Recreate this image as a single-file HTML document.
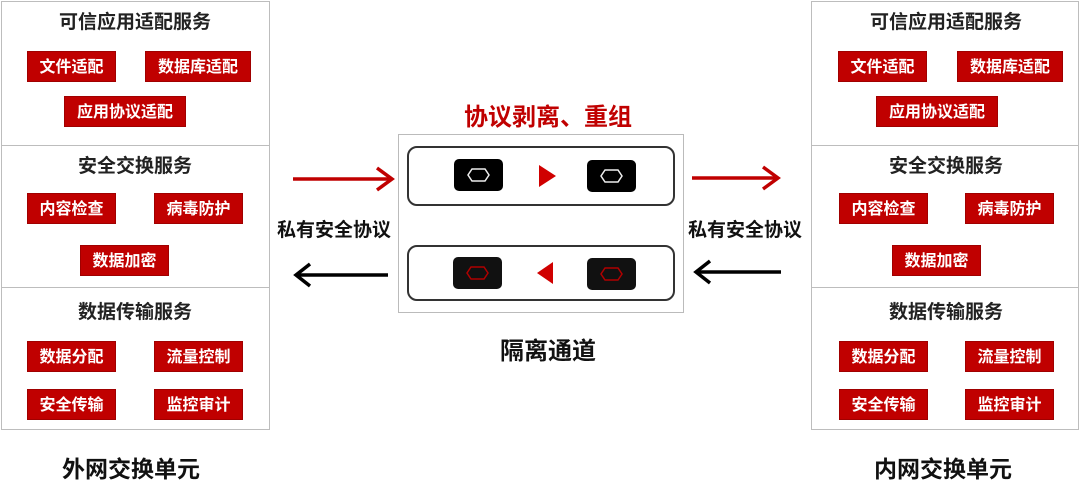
<!DOCTYPE html>
<html><head><meta charset="utf-8"><style>
body{margin:0;width:1080px;height:485px;background:#fff;position:relative;overflow:hidden;font-family:"Liberation Sans","Noto Sans CJK SC",sans-serif;font-weight:bold}
.a{position:absolute}
.sec{position:absolute;border:1.5px solid #bdbdbd;box-sizing:border-box;background:#fff}
.t{position:absolute;font-size:19px;color:#222;text-align:center;width:268px;left:0}
.b{position:absolute;background:#c00000;color:#fff;font-size:16px;text-align:center;height:31px;line-height:31px;border:1px solid #a00000;box-sizing:border-box;white-space:nowrap}
.lbl{position:absolute;font-size:23px;color:#111;text-align:center}
</style></head><body>

<!-- Left panel -->
<div class="sec" style="left:1px;top:1px;width:269px;height:145px"></div>
<div class="sec" style="left:1px;top:145px;width:269px;height:143px"></div>
<div class="sec" style="left:1px;top:287px;width:269px;height:143px"></div>
<div class="a" style="left:1px;top:0;width:269px;height:440px">
 <div class="t" style="top:7px">可信应用适配服务</div>
 <div class="b" style="left:26px;top:51px;width:89px">文件适配</div>
 <div class="b" style="left:144px;top:51px;width:106px">数据库适配</div>
 <div class="b" style="left:63px;top:96px;width:122px">应用协议适配</div>
 <div class="t" style="top:151px">安全交换服务</div>
 <div class="b" style="left:26px;top:193px;width:89px">内容检查</div>
 <div class="b" style="left:153px;top:193px;width:89px">病毒防护</div>
 <div class="b" style="left:79px;top:245px;width:89px">数据加密</div>
 <div class="t" style="top:297px">数据传输服务</div>
 <div class="b" style="left:26px;top:341px;width:89px">数据分配</div>
 <div class="b" style="left:153px;top:341px;width:89px">流量控制</div>
 <div class="b" style="left:26px;top:389px;width:89px">安全传输</div>
 <div class="b" style="left:153px;top:389px;width:89px">监控审计</div>
</div>
<div class="lbl" style="left:0;width:262px;top:450px">外网交换单元</div>

<!-- Right panel -->
<div class="sec" style="left:811px;top:1px;width:268px;height:145px"></div>
<div class="sec" style="left:811px;top:145px;width:268px;height:143px"></div>
<div class="sec" style="left:811px;top:287px;width:268px;height:143px"></div>
<div class="a" style="left:812px;top:0;width:268px;height:440px">
 <div class="t" style="top:7px">可信应用适配服务</div>
 <div class="b" style="left:26px;top:51px;width:89px">文件适配</div>
 <div class="b" style="left:145px;top:51px;width:106px">数据库适配</div>
 <div class="b" style="left:64px;top:96px;width:122px">应用协议适配</div>
 <div class="t" style="top:151px">安全交换服务</div>
 <div class="b" style="left:27px;top:193px;width:89px">内容检查</div>
 <div class="b" style="left:153px;top:193px;width:89px">病毒防护</div>
 <div class="b" style="left:80px;top:245px;width:89px">数据加密</div>
 <div class="t" style="top:297px">数据传输服务</div>
 <div class="b" style="left:27px;top:341px;width:89px">数据分配</div>
 <div class="b" style="left:153px;top:341px;width:89px">流量控制</div>
 <div class="b" style="left:27px;top:389px;width:89px">安全传输</div>
 <div class="b" style="left:153px;top:389px;width:89px">监控审计</div>
</div>
<div class="lbl" style="left:812px;width:262px;top:450px">内网交换单元</div>

<!-- Center -->
<div class="a" style="left:398px;top:97px;width:300px;text-align:center;font-size:24px;color:#c00000">协议剥离、重组</div>
<div class="a" style="left:398px;top:134px;width:286px;height:179px;border:1.5px solid #bbb;box-sizing:border-box"></div>
<div class="a" style="left:407px;top:146px;width:268px;height:60px;border:2px solid #333;border-radius:10px;box-sizing:border-box"></div>
<div class="a" style="left:407px;top:245px;width:268px;height:56px;border:2px solid #333;border-radius:10px;box-sizing:border-box"></div>
<div class="lbl" style="left:398px;width:300px;top:331px;font-size:24px">隔离通道</div>

<svg class="a" style="left:0;top:0" width="1080" height="485">
 <defs>
  <g id="hw"><rect width="49" height="32" rx="5" fill="#000"/><polygon points="18,10 31,10 35,16 31,22 18,22 14,16" fill="none" stroke="#eee" stroke-width="1.5"/></g>
  <g id="hr"><rect width="49" height="32" rx="5" fill="#111"/><polygon points="18,10 31,10 35,16 31,22 18,22 14,16" fill="none" stroke="#b00000" stroke-width="1.5"/></g>
 </defs>
 <use href="#hw" x="454" y="159"/>
 <use href="#hw" x="587" y="160"/>
 <polygon points="539,165 556,176 539,187" fill="#d00000"/>
 <use href="#hr" x="453" y="257"/>
 <use href="#hr" x="587" y="258"/>
 <polygon points="553,262 537,273 553,284" fill="#d00000"/>
 <line x1="293" y1="179" x2="390" y2="179" stroke="#c00000" stroke-width="3.5"/>
 <polyline points="377,168 392,179 377,190" fill="none" stroke="#c00000" stroke-width="3.5"/>
 <line x1="297" y1="275" x2="388" y2="275" stroke="#000" stroke-width="3.5"/>
 <polyline points="310,264 296,275 310,286" fill="none" stroke="#000" stroke-width="3.5"/>
 <line x1="692" y1="178" x2="776" y2="178" stroke="#c00000" stroke-width="3.5"/>
 <polyline points="763,167 778,178 763,189" fill="none" stroke="#c00000" stroke-width="3.5"/>
 <line x1="697" y1="272" x2="781" y2="272" stroke="#000" stroke-width="3.5"/>
 <polyline points="710,261 696,272 710,283" fill="none" stroke="#000" stroke-width="3.5"/>
</svg>
<div class="a" style="left:270px;top:215px;width:128px;text-align:center;font-size:19px;color:#111">私有安全协议</div>
<div class="a" style="left:681px;top:215px;width:128px;text-align:center;font-size:19px;color:#111">私有安全协议</div>
</body></html>
